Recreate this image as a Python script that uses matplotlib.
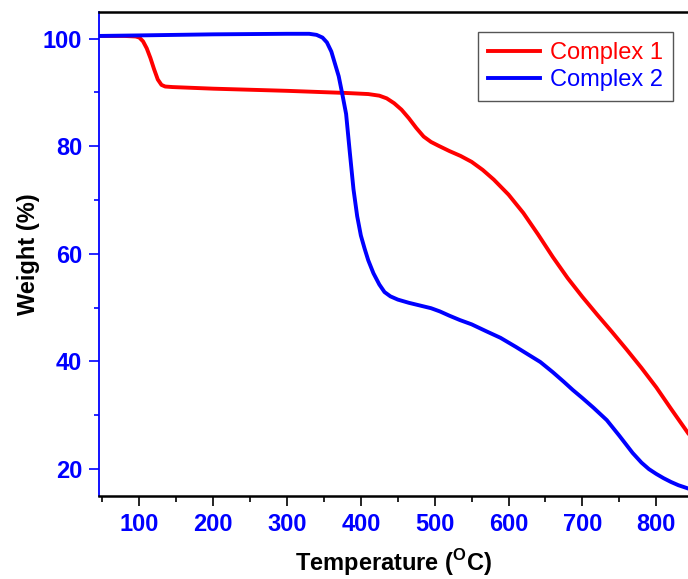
import numpy as np
import matplotlib
matplotlib.use('Agg')
import matplotlib.pyplot as plt

plt.rcParams['font.family'] = ['Liberation Sans', 'DejaVu Sans']
plt.rcParams['mathtext.fontset'] = 'custom'
plt.rcParams['mathtext.bf'] = 'Liberation Sans:bold'
plt.rcParams['mathtext.rm'] = 'Liberation Sans'

# Complex 1 (red)
temp_1 = [45, 80, 95, 100, 105, 110, 115, 120, 125, 130, 135, 145, 200, 300, 380, 410,
          425, 435, 445, 455, 465, 475, 485, 495, 505, 520, 535, 550, 565, 580, 600,
          620, 640, 660, 680, 700, 720, 740, 760, 780, 800, 820, 843]
weight_1 = [100.5, 100.5, 100.4, 100.2, 99.5, 98.2, 96.4, 94.3, 92.4, 91.4, 91.1, 91.0,
            90.7, 90.3, 89.9, 89.7, 89.4, 88.9, 88.0, 86.8, 85.2, 83.4, 81.8, 80.8, 80.1,
            79.1, 78.2, 77.1, 75.6, 73.8, 71.0, 67.6, 63.6, 59.4, 55.5, 52.0, 48.7, 45.5,
            42.2, 38.8, 35.2, 31.2, 26.7]

# Complex 2 (blue)
temp_2 = [45, 100, 200, 300, 330, 340, 348, 354, 360, 365, 370, 375, 380, 385, 390, 395,
          400, 405, 410, 417, 425, 432, 440, 450, 465, 480, 495, 507, 520, 534, 550, 570,
          589, 610, 630, 643, 660, 675, 687, 700, 715, 733, 750, 768, 780, 790, 800, 810,
          820, 830, 843]
weight_2 = [100.5, 100.6, 100.8, 100.9, 100.9, 100.7, 100.2, 99.3, 97.6, 95.3, 93.0, 89.6,
            86.0, 78.9, 72.0, 67.0, 63.4, 61.0, 58.8, 56.4, 54.3, 52.9, 52.1, 51.5, 50.9,
            50.4, 49.9, 49.3, 48.5, 47.7, 46.9, 45.6, 44.4, 42.7, 41.0, 39.9, 38.0, 36.2,
            34.7, 33.2, 31.4, 29.1, 26.2, 23.0, 21.2, 20.0, 19.1, 18.3, 17.6, 17.0, 16.4]

labels = ['Complex 1', 'Complex 2']
colors = ['#ff0000', '#0000ff']

fig = plt.figure(figsize=(6.88, 5.79), dpi=100)
ax = fig.add_axes([0.1435, 0.1434, 0.8565, 0.8354])

ax.plot(temp_1, weight_1, color=colors[0], lw=2.8, label=labels[0], solid_joinstyle='round')
ax.plot(temp_2, weight_2, color=colors[1], lw=2.8, label=labels[1], solid_joinstyle='round')

ax.set_xlim(45, 843)
ax.set_ylim(15, 104.9)

ax.set_xticks([100, 200, 300, 400, 500, 600, 700, 800])
ax.set_xticks(np.arange(50, 850, 50), minor=True)
ax.set_yticks([20, 40, 60, 80, 100])
ax.set_yticks([30, 50, 70, 90], minor=True)

ax.spines['right'].set_visible(False)
ax.spines['left'].set_color('#0000ff')
ax.spines['left'].set_linewidth(1.3)
ax.spines['bottom'].set_linewidth(1.8)
ax.spines['top'].set_linewidth(1.8)

ax.tick_params(axis='x', which='major', direction='out', length=7, width=1.2, pad=5,
               labelsize=17, labelcolor='#0000ff', color='black')
ax.tick_params(axis='x', which='minor', direction='out', length=4, width=1.2, color='black')
ax.tick_params(axis='y', which='major', direction='out', length=7, width=1.2, pad=5,
               labelsize=17, labelcolor='#0000ff', color='#0000ff')
ax.tick_params(axis='y', which='minor', direction='out', length=3.5, width=1.2, color='#0000ff')
for lab in ax.get_xticklabels() + ax.get_yticklabels():
    lab.set_fontweight('bold')

ax.set_xlabel(r'Temperature ($^{\mathbf{O}}$C)', fontsize=17, fontweight='bold', labelpad=8)
ax.set_ylabel('Weight (%)', fontsize=17, fontweight='bold', labelpad=2)

leg = ax.legend(loc='upper right', bbox_to_anchor=(672.7 / 688, 1 - 32.3 / 579),
                bbox_transform=fig.transFigure, fontsize=17, fancybox=False,
                framealpha=1, edgecolor='#555555', handlelength=2.2, borderaxespad=0,
                handletextpad=0.4, labelspacing=0.22, borderpad=0.42)
leg.get_frame().set_linewidth(1.0)
for txt, c in zip(leg.get_texts(), colors):
    txt.set_color(c)

fig.savefig('out.png', dpi=100)
